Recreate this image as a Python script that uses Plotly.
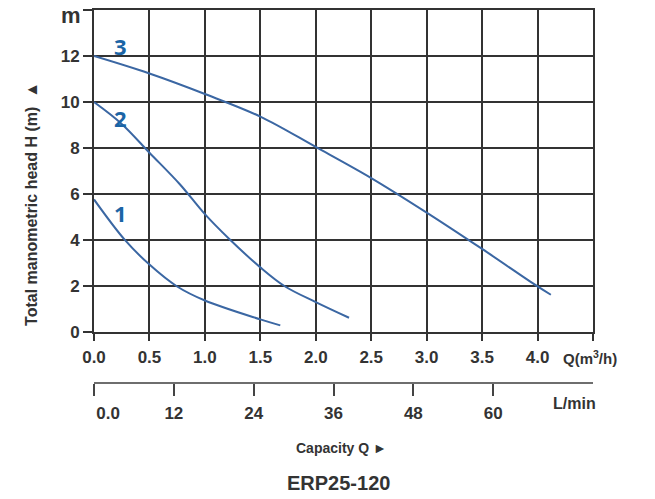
import plotly.graph_objects as go

# ---- data (Q in m3/h, H in m) ----
c1_q = [0, 0.28, 0.5, 0.746, 1.0, 1.5, 1.68]
c1_h = [5.77, 4.0, 2.94, 2.0, 1.38, 0.56, 0.30]

c2_q = [0, 0.25, 0.5, 0.776, 1.0, 1.22, 1.5, 1.72, 2.0, 2.30]
c2_h = [10.0, 9.05, 7.8, 6.42, 5.13, 4.05, 2.82, 2.0, 1.31, 0.63]

c3_q = [0, 0.5, 1.0, 1.5, 2.0, 2.5, 3.0, 3.5, 4.0, 4.12]
c3_h = [12.0, 11.24, 10.35, 9.37, 8.05, 6.70, 5.2, 3.62, 1.99, 1.63]

curve_names = ["1", "2", "3"]
label_q = [0.24, 0.24, 0.24]
label_h = [5.16, 9.3, 12.45]

q_ticks = [0, 0.5, 1.0, 1.5, 2.0, 2.5, 3.0, 3.5, 4.0, 4.5]
q_ticktext = ["0.0", "0.5", "1.0", "1.5", "2.0", "2.5", "3.0", "3.5", "4.0", ""]
h_ticks = [0, 2, 4, 6, 8, 10, 12, 14]
h_ticktext = ["0", "2", "4", "6", "8", "10", "12", ""]
lmin_ticks = [0, 12, 24, 36, 48, 60]
lmin_ticktext = ["\u00a0\u00a0\u00a0\u00a0\u00a0\u00a00.0", "12", "24", "36", "48", "60"]

FONT = "Liberation Sans, Arial, sans-serif"
TXT = "#333333"
GRID = "#333333"
CURVE = "#3b67a3"
LBL = "#1b65a6"

fig = go.Figure()
for q, h in [(c1_q, c1_h), (c2_q, c2_h), (c3_q, c3_h)]:
    fig.add_trace(go.Scatter(x=q, y=h, mode="lines", line=dict(color=CURVE, width=2, shape="spline"),
                             showlegend=False, hoverinfo="skip"))
# invisible trace to activate the L/min axis
fig.add_trace(go.Scatter(x=[0, 75], y=[-5, -5], xaxis="x2", yaxis="y", mode="markers",
                         marker=dict(opacity=0), showlegend=False, hoverinfo="skip"))

for name, q, h in zip(curve_names, label_q, label_h):
    fig.add_annotation(x=q, y=h, text="<b>%s</b>" % name, showarrow=False,
                       font=dict(family="Open Sans, sans-serif", size=22, color=LBL),
                       xanchor="center", yanchor="middle")

def ann(x, y, text, size, angle=0):
    fig.add_annotation(xref="paper", yref="paper", x=x, y=y, text=text, showarrow=False,
                       textangle=angle, xanchor="center", yanchor="middle",
                       font=dict(family=FONT, size=size, color=TXT, weight="bold"))

ann(-0.046, 0.985, "m", 22)
ann(-0.125, 0.479, "Total manometric head H (m)  \u25b2", 16, -90)
ann(0.994, 0.0693, "Q(m<sup>3</sup>/h)", 15)
ann(0.962, -0.056, "L/min", 16)
ann(0.496, -0.173, "Capacity Q \u25ba", 14)
ann(0.49, -0.267, "ERP25-120", 20)

tickfont = dict(family=FONT, size=17, color=TXT, weight="bold")
fig.update_layout(
    width=655, height=499,
    margin=dict(l=94, r=62, t=8, b=116),
    paper_bgcolor="white", plot_bgcolor="white",
    xaxis=dict(range=[0, 4.5], tickvals=q_ticks, ticktext=q_ticktext, showgrid=True,
               gridcolor=GRID, gridwidth=2, showline=True, mirror=True, linecolor=GRID,
               linewidth=2, ticks="outside", ticklen=7, tickwidth=2, tickcolor=GRID,
               zeroline=False, tickfont=tickfont, ticklabelstandoff=1, anchor="y"),
    yaxis=dict(range=[0, 14], domain=[0.136, 1], tickvals=h_ticks, ticktext=h_ticktext,
               showgrid=True, gridcolor=GRID, gridwidth=2, showline=True, mirror=True,
               linecolor=GRID, linewidth=2, ticks="outside", ticklen=9, tickwidth=2,
               tickcolor=GRID, zeroline=False, tickfont=tickfont),
    xaxis2=dict(range=[0, 75], overlaying="x", anchor="free", position=0, side="bottom",
                tickvals=lmin_ticks, ticktext=lmin_ticktext, showgrid=False, zeroline=False,
                showline=True, linecolor="#6e6e6e", linewidth=2, ticks="outside", ticklen=12,
                tickwidth=2, tickcolor="#444444", tickfont=tickfont, ticklabelstandoff=3),
)

# remove the browser's default 8px page margin so the figure fills the window exactly
fig.write_html("out.html", config={"displayModeBar": False},
               post_script="document.body.style.margin='0px';")
